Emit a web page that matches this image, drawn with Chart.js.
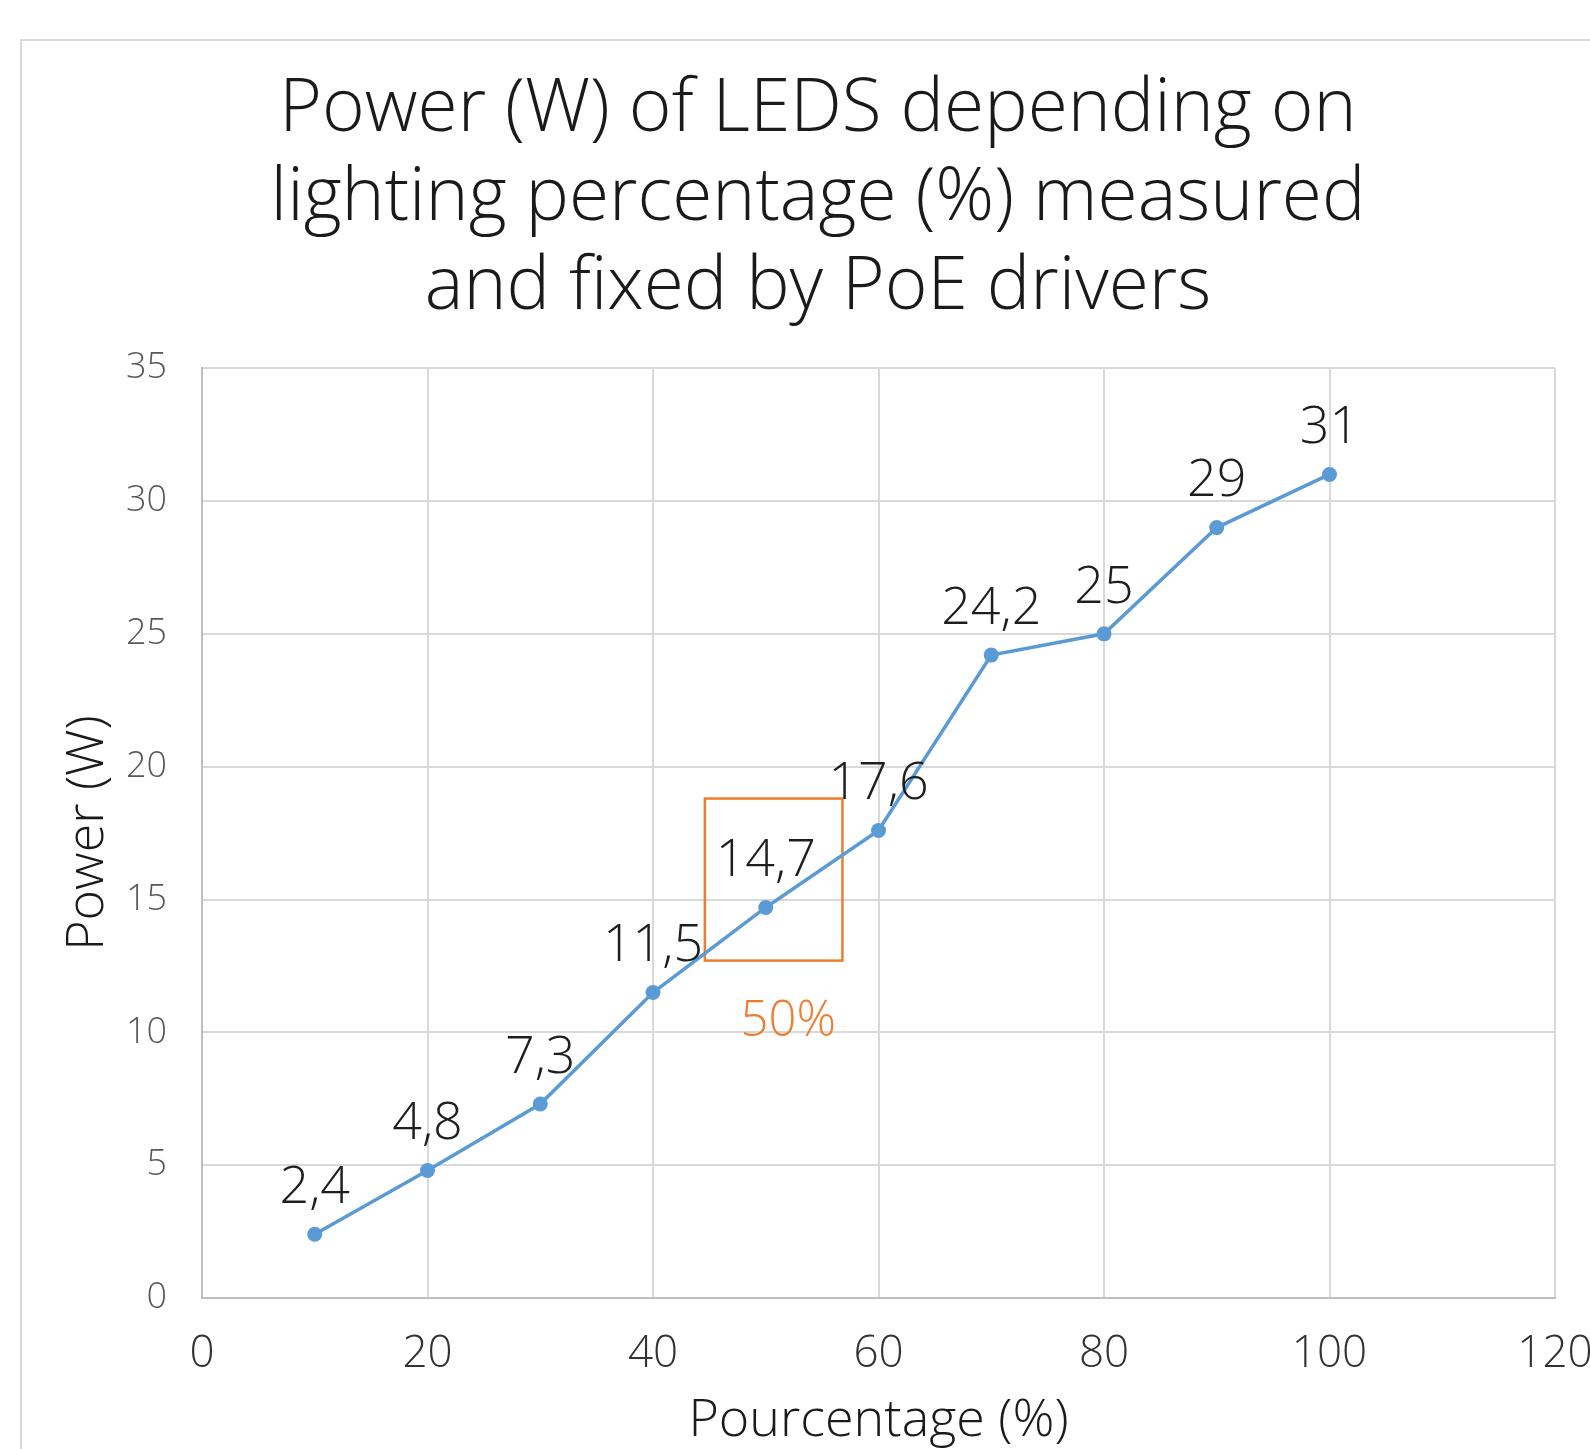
<!DOCTYPE html>
<html>
<head>
<meta charset="utf-8">
<script src="https://cdn.jsdelivr.net/npm/chart.js@4.4.0/dist/chart.umd.min.js"></script>
<style>
    html, body { margin: 0; padding: 0; background: #fff; overflow: hidden; }
    #wrap { position: relative; width: 1590px; height: 1449px; }
    #frame { position: absolute; left: 20px; top: 39px; width: 1600px; height: 1500px; border: 2px solid #d9d9d9; }
    #chart { position: absolute; left: 0; top: 0; }
</style>
</head>
<body>
<div id="wrap">
    <div id="frame"></div>
    <canvas id="chart" width="1590" height="1449"></canvas>
</div>
<script>
// Data
const titleLines = ['Power (W) of LEDS depending on', 'lighting percentage (%) measured', 'and fixed by PoE drivers'];
const percentages = [10, 20, 30, 40, 50, 60, 70, 80, 90, 100];
const powerWatts = [2.4, 4.8, 7.3, 11.5, 14.7, 17.6, 24.2, 25, 29, 31];
const xAxisLabel = 'Pourcentage (%)';
const yAxisLabel = 'Power (W)';
const highlightText = '50%';

// Highlight box around the 50% point (in axis units)
const highlightBox = { xMin: 44.6, xMax: 56.8, yMin: 12.7, yMax: 18.8 };
const highlightLabelPos = { x: 52, y: 10.4 };

const FONT = "'Open Sans', 'DejaVu Sans', sans-serif";
const BLUE = '#5B9BD5';
const ORANGE = '#ED7D31';

const fmt = v => String(v).replace('.', ',');

// Value labels above each point
const pointLabels = {
    id: 'pointLabels',
    afterDatasetsDraw(chart) {
        const ctx = chart.ctx;
        const meta = chart.getDatasetMeta(0);
        ctx.save();
        ctx.font = `300 52px ${FONT}`;
        ctx.fillStyle = '#1e1e1e';
        ctx.textAlign = 'center';
        ctx.textBaseline = 'middle';
        meta.data.forEach((pt, i) => {
            ctx.fillText(fmt(powerWatts[i]), pt.x, pt.y - 46);
        });
        ctx.restore();
    }
};

// Orange box + "50%" text
const highlight = {
    id: 'highlight',
    beforeDatasetsDraw(chart) {
        const { ctx, scales: { x, y } } = chart;
        const left = x.getPixelForValue(highlightBox.xMin);
        const right = x.getPixelForValue(highlightBox.xMax);
        const top = y.getPixelForValue(highlightBox.yMax);
        const bottom = y.getPixelForValue(highlightBox.yMin);
        ctx.save();
        ctx.strokeStyle = ORANGE;
        ctx.lineWidth = 2.5;
        ctx.strokeRect(left, top, right - left, bottom - top);
        ctx.font = `300 49px ${FONT}`;
        ctx.fillStyle = ORANGE;
        ctx.textAlign = 'center';
        ctx.textBaseline = 'middle';
        ctx.fillText(highlightText, x.getPixelForValue(highlightLabelPos.x), y.getPixelForValue(highlightLabelPos.y));
        ctx.restore();
    }
};

new Chart(document.getElementById('chart'), {
    type: 'line',
    data: {
        datasets: [{
            data: percentages.map((p, i) => ({ x: p, y: powerWatts[i] })),
            borderColor: BLUE,
            backgroundColor: BLUE,
            borderWidth: 3.5,
            pointRadius: 7.5,
            pointBorderWidth: 0,
            pointBackgroundColor: BLUE,
            tension: 0,
        }]
    },
    options: {
        responsive: false,
        animation: false,
        layout: { padding: { left: 81, right: 35, top: 0, bottom: 0 } },
        plugins: {
            legend: { display: false },
            tooltip: { enabled: false },
            title: {
                display: true,
                text: titleLines,
                color: '#1a1a1a',
                font: { family: FONT, size: 73, weight: 300, lineHeight: 1.22 },
                padding: { top: 66, bottom: 35 },
            }
        },
        scales: {
            x: {
                type: 'linear',
                min: 0,
                max: 120,
                ticks: { stepSize: 20, color: '#333333', padding: 30, font: { family: FONT, size: 44, weight: 300 } },
                grid: { color: '#d9d9d9', lineWidth: 2, drawTicks: false },
                border: { color: '#bfbfbf', width: 2 },
                title: {
                    display: true,
                    text: xAxisLabel,
                    color: '#1a1a1a',
                    font: { family: FONT, size: 52, weight: 300, lineHeight: 1 },
                    padding: { top: 0, bottom: 2 },
                },
                afterFit(scale) {
                    scale.height = 151;
                    scale.paddingLeft = 0;
                    scale.paddingRight = 0;
                }
            },
            y: {
                min: 0,
                max: 35,
                ticks: { stepSize: 5, color: '#595959', padding: 35, font: { family: FONT, size: 36, weight: 300 } },
                grid: { color: '#d9d9d9', lineWidth: 2, drawTicks: false },
                border: { color: '#bfbfbf', width: 2 },
                title: {
                    display: true,
                    text: yAxisLabel,
                    color: '#1a1a1a',
                    font: { family: FONT, size: 52, weight: 300, lineHeight: 1 },
                    padding: { top: -19, bottom: 0 },
                },
                afterFit(scale) {
                    scale.width = 121;
                    scale.paddingTop = 0;
                    scale.paddingBottom = 0;
                }
            }
        }
    },
    plugins: [highlight, pointLabels]
});
</script>
</body>
</html>
